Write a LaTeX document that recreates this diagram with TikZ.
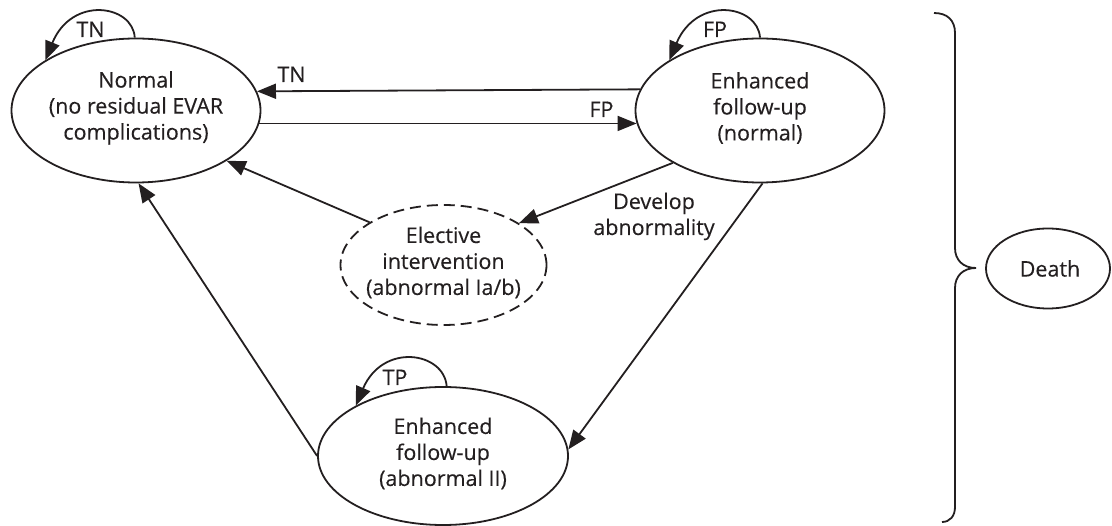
\documentclass[tikz,border=0pt]{standalone}
\usepackage{fontspec}
\setmainfont[FakeBold=0.3]{Open Sans}
\usetikzlibrary{shapes.geometric,arrows.meta}
\definecolor{ink}{HTML}{231F20}
\begin{document}
\begin{tikzpicture}[x=1pt,y=-1pt,
  txt/.style={font=\fontsize{21.5}{26}\selectfont, text=ink, align=center, inner sep=0pt},
  lbl/.style={font=\fontsize{21.5}{26}\selectfont, text=ink, inner sep=0pt, anchor=base},
  state/.style={ellipse, draw=ink, line width=1.8pt, inner sep=0pt},
  optional/.style={state, dash pattern=on 11pt off 6pt},
  arr/.style={draw=ink, line width=1.8pt, -{Triangle[length=19pt,width=15pt]}},
  bracket/.style={draw=ink, line width=1.8pt}
]
\path[use as bounding box] (0,0) rectangle (1112,526);

% states
\node[state, minimum width=249pt, minimum height=144pt] (normal) at (136,110.5) {};
\node[txt] (normal-t) at (136,108) {Normal\\(no residual EVAR\\complications)};

\node[state, minimum width=249pt, minimum height=144pt] (enh) at (760,110.5) {};
\node[txt] (enh-t) at (760,108) {Enhanced\\follow-up\\(normal)};

\node[optional, minimum width=206pt, minimum height=120pt] (elect) at (443.5,265) {};
\node[txt] (elect-t) at (443.5,262.5) {Elective\\intervention\\(abnormal Ia/b)};

\node[state, minimum width=250pt, minimum height=138pt] (abn) at (443,456) {};
\node[txt] (abn-t) at (443,453.5) {Enhanced\\follow-up\\(abnormal II)};

\node[state, minimum width=124pt, minimum height=80pt] (death) at (1048,268.5) {};
\node[txt] (death-t) at (1050,268.5) {Death};

% transitions between states
\draw[arr] (enh.170.25) -- (normal.9.75);
\draw[arr] (normal.-6.8) -- (enh.186.8);
\draw[arr] (elect.150.9) -- (normal.-29.7);
\draw[arr] (enh.-149.7) -- (elect.29.7);
\draw[arr] (enh.-88) -- (abn.3.2);
\draw[arr] (abn.180) -- (normal.-88.4);

% self loops
\draw[arr] (normal.91) .. controls (133,5) and (72,-5) .. (normal.151);
\draw[arr] (enh.90) .. controls (758,5) and (697,-5) .. (enh.151);
\draw[arr] (abn.87) .. controls (444,352) and (383,342) .. (abn.150);

% transition labels (placed by baseline)
\node[lbl] (tn-loop) at (90.5,37) {TN};
\node[lbl] (fp-loop) at (715,37) {FP};
\node[lbl] (tp-loop) at (395,385) {TP};
\node[lbl] (tn-lbl) at (291.5,82) {TN};
\node[lbl] (fp-lbl) at (601.5,117) {FP};
\node[lbl] (dev-lbl-1) at (654,209) {Develop};
\node[lbl] (dev-lbl-2) at (654,235) {abnormality};

% brace gathering all states towards death
\coordinate (brace-top) at (934,13);
\coordinate (brace-tip) at (976,268);
\coordinate (brace-bot) at (942,522);
\draw[bracket] (brace-top) .. controls (947,13) and (955,20) .. (955,33)
  -- (955,248) .. controls (955,260) and (963,268) .. (brace-tip)
  .. controls (963,268) and (955,276) .. (955,288)
  -- (955,507) .. controls (955,516) and (950,522) .. (brace-bot);
\end{tikzpicture}
\end{document}
